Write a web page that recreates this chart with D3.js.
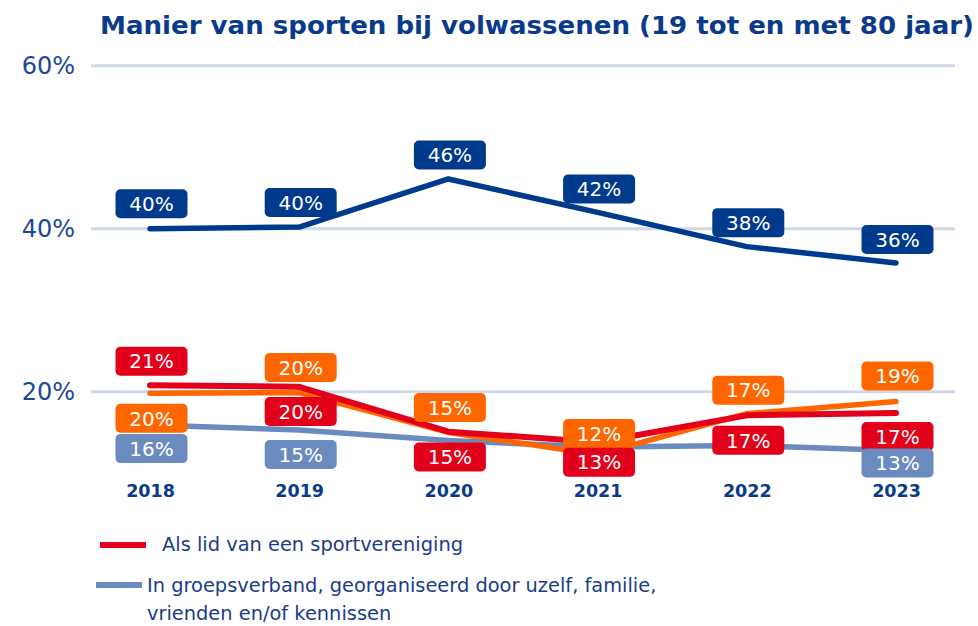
<!DOCTYPE html>
<html><head><meta charset="utf-8">
<script src="https://cdn.jsdelivr.net/npm/d3@7"></script>
<style>html,body{margin:0;padding:0;background:#fff;}svg{display:block;}</style>
</head><body>
<script>
// ---- data ----
const years = ["2018", "2019", "2020", "2021", "2022", "2023"];
const individueel = [40.0, 40.2, 46.1, 42.0, 37.8, 35.8];      // dark blue
const vereniging = [20.8, 20.6, 15.1, 13.8, 17.1, 17.4];       // red
const overig = [19.8, 19.9, 15.0, 12.3, 17.3, 18.8];           // orange
const groepsverband = [15.9, 15.3, 14.0, 13.2, 13.4, 12.8];    // light blue
const labelsIndividueel = ["40%", "40%", "46%", "42%", "38%", "36%"];
const labelsVereniging = ["21%", "20%", "15%", "13%", "17%", "17%"];
const labelsOverig = ["20%", "20%", "15%", "12%", "17%", "19%"];
const labelsGroep = ["16%", "15%", null, null, null, "13%"];
const yTicks = [20, 40, 60];
const title = "Manier van sporten bij volwassenen (19 tot en met 80 jaar)";
const legendItems = ["Als lid van een sportvereniging",
  "In groepsverband, georganiseerd door uzelf, familie,|vrienden en/of kennissen"];

// ---- layout / style ----
const W = 978, H = 626;
const colors = {dark: "#003a8c", red: "#e2001a", orange: "#ff6600", light: "#6a8bbf"};
const svg = d3.select("body").append("svg").attr("width", W).attr("height", H);

const x = d3.scalePoint().domain(years).range([150, 896]);
const y = d3.scaleLinear().domain([0, 60]).range([554.7, 65.7]);

// title
svg.append("text").attr("x", 100).attr("y", 34)
  .attr("font-family", "DejaVu Sans").attr("font-weight", "bold").attr("font-size", 24)
  .attr("fill", "#0a3a8a").attr("textLength", 874).attr("lengthAdjust", "spacingAndGlyphs")
  .text(title);

// gridlines + y labels
yTicks.forEach(t => {
  svg.append("line").attr("x1", 91).attr("x2", 955).attr("y1", y(t)).attr("y2", y(t))
    .attr("stroke", "#cfd9e8").attr("stroke-width", 3);
  svg.append("text").attr("x", 75).attr("y", y(t)).attr("dy", "0.36em")
    .attr("text-anchor", "end").attr("font-family", "DejaVu Sans").attr("font-size", 24)
    .attr("fill", "#1c4896").text(t + "%");
});

// x labels
const xAxis = d3.axisBottom(x).tickSize(0).tickPadding(0);
const gx = svg.append("g").attr("transform", "translate(0,483)").call(xAxis);
gx.select(".domain").remove();
gx.selectAll("text").attr("font-family", "DejaVu Sans").attr("font-weight", "bold")
  .attr("font-size", 17.5).attr("fill", "#0a3a8a").attr("dy", "0.82em");

const line = d3.line().x((d, i) => x(years[i])).y(d => y(d));
const series = [
  {vals: groepsverband, color: colors.light, w: 5.5, labels: labelsGroep, dy: [23.5, 24.5, 0, 0, 0, 12.6]},
  {vals: overig, color: colors.orange, w: 5.5, labels: labelsOverig, dy: [25, -25, -25, -21, -23.5, -25.5]},
  {vals: vereniging, color: colors.red, w: 6, labels: labelsVereniging, dy: [-24, 24.7, 25.4, 20, 25, 23.6]},
  {vals: individueel, color: colors.dark, w: 5.5, labels: labelsIndividueel, dy: [-25, -24.6, -24, -23.4, -24, -23.4]}
];
series.forEach(s => {
  svg.append("path").attr("d", line(s.vals)).attr("fill", "none")
    .attr("stroke", s.color).attr("stroke-width", s.w)
    .attr("stroke-linecap", "round").attr("stroke-linejoin", "round");
});
const labelOrder = [series[3], series[1], series[2], series[0]];
labelOrder.forEach(s => {
  s.vals.forEach((v, i) => {
    if (!s.labels[i]) return;
    const cx = x(years[i]) + 1.5, cy = y(v) + s.dy[i];
    const g = svg.append("g");
    g.append("rect").attr("x", cx - 36).attr("y", cy - 14.5).attr("width", 72).attr("height", 29)
      .attr("rx", 5).attr("fill", s.color);
    g.append("text").attr("x", cx).attr("y", cy).attr("dy", "0.36em").attr("text-anchor", "middle")
      .attr("font-family", "DejaVu Sans").attr("font-size", 20).attr("fill", "#fff").text(s.labels[i]);
  });
});

// legend
const lg = svg.append("g");
lg.append("line").attr("x1", 100).attr("x2", 146).attr("y1", 545).attr("y2", 545)
  .attr("stroke", colors.red).attr("stroke-width", 6);
lg.append("text").attr("x", 162).attr("y", 551).attr("font-family", "DejaVu Sans").attr("font-size", 19.4)
  .attr("fill", "#1a3c8a").text(legendItems[0]);
lg.append("line").attr("x1", 96).attr("x2", 142).attr("y1", 585).attr("y2", 585)
  .attr("stroke", colors.light).attr("stroke-width", 6);
legendItems[1].split("|").forEach((t, k) => {
  lg.append("text").attr("x", 147).attr("y", 592 + k * 28).attr("font-family", "DejaVu Sans")
    .attr("font-size", 19.4).attr("fill", "#1a3c8a").text(t);
});
</script>
</body></html>
